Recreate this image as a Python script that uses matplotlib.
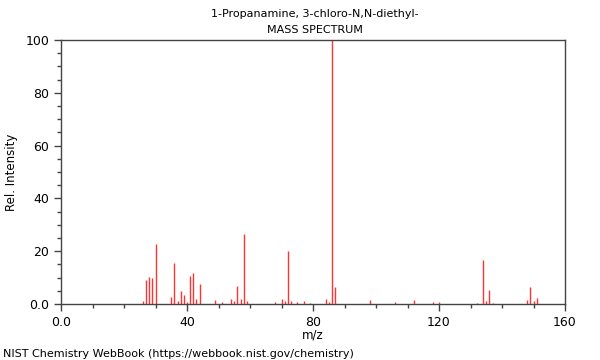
import matplotlib
matplotlib.use("Agg")
import matplotlib.pyplot as plt
from matplotlib.ticker import MultipleLocator, FuncFormatter

# m/z and relative intensity
mz = [26, 27, 28, 29, 30, 35, 36, 37, 38, 39, 40, 41, 42, 43,
      44, 49, 51, 54, 55, 56, 57, 58, 59, 68, 70, 71, 72, 73, 75, 77, 79,
      84, 85, 86, 87, 98, 106, 112, 118, 120, 132, 134, 135, 136, 137,
      148, 149, 150, 151]
inten = [1.3, 9.1, 10.3, 10.0, 22.8, 2.5, 15.7, 1.1, 5.0, 3.3, 0.8, 10.6, 11.6, 2.0,
         7.6, 1.5, 0.8, 1.8, 1.1, 6.7, 1.9, 26.4, 1.1, 0.8, 1.8, 1.0, 20.0, 1.1, 0.6, 1.1, 0.4,
         1.8, 0.8, 100.0, 6.4, 1.5, 0.8, 1.5, 0.8, 0.9, 0.4, 16.7, 1.3, 5.4, 0.5,
         1.5, 6.6, 1.1, 2.1]

fig = plt.figure(figsize=(6, 3.6), dpi=100)
ax = fig.add_axes([0.1017, 0.1556, 0.84, 0.7333])

ax.vlines(mz, 0, inten, colors="#ff3333", linewidth=1.0)

ax.set_xlim(0, 160)
ax.set_ylim(0, 100)
ax.xaxis.set_major_locator(MultipleLocator(40))
ax.xaxis.set_minor_locator(MultipleLocator(10))
ax.yaxis.set_major_locator(MultipleLocator(20))
ax.yaxis.set_minor_locator(MultipleLocator(5))
fmt = FuncFormatter(lambda v, p: "0.0" if v == 0 else "%d" % v)
ax.xaxis.set_major_formatter(fmt)
ax.yaxis.set_major_formatter(fmt)

for s in ax.spines.values():
    s.set_color("#444444")
    s.set_linewidth(1.0)
ax.tick_params(which="major", length=5, width=1, color="#444444", labelsize=9)
ax.tick_params(which="minor", length=3, width=1, color="#444444")

ax.set_xlabel("m/z", fontsize=8.5, labelpad=0)
ax.set_ylabel("Rel. Intensity", fontsize=8.5, labelpad=5)

fig.text(0.525, 0.96, "1-Propanamine, 3-chloro-N,N-diethyl-", ha="center", va="center", fontsize=8)
fig.text(0.525, 0.916, "MASS SPECTRUM", ha="center", va="center", fontsize=8)
fig.text(0.005, 0.018, "NIST Chemistry WebBook (https://webbook.nist.gov/chemistry)",
         ha="left", va="center", fontsize=8)

fig.savefig("out.png", dpi=100)
